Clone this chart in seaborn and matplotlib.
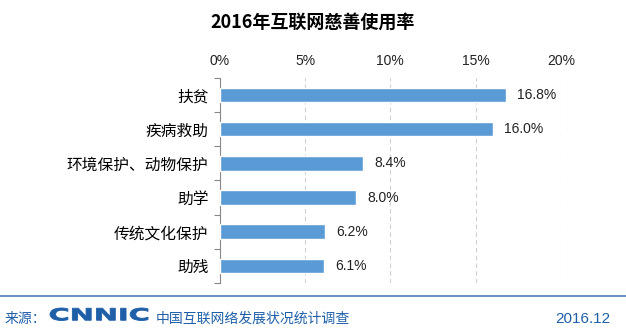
import matplotlib
matplotlib.use("Agg")
import matplotlib.pyplot as plt
import seaborn as sns
import pandas as pd
import numpy as np
from matplotlib.ticker import FixedLocator, PercentFormatter
from matplotlib.textpath import TextPath
from matplotlib.patches import PathPatch
from matplotlib.font_manager import FontProperties
from matplotlib.transforms import Affine2D

categories = ["扶贫", "疾病救助", "环境保护、动物保护", "助学", "传统文化保护", "助残"]
values = [16.8, 16.0, 8.4, 8.0, 6.2, 6.1]
xticks = [0, 5, 10, 15, 20]

sns.set_theme(style="white")
plt.rcParams['font.family'] = ['Noto Sans CJK SC', 'DejaVu Sans']

df = pd.DataFrame({"cat": categories, "val": values})

fig = plt.figure(figsize=(6.26, 3.36), dpi=100)
fig.patch.set_facecolor("white")

ax = fig.add_axes([0.351, 0.158, 0.545, 0.610])
ax.set_facecolor("none")
sns.barplot(data=df, y="cat", x="val", color="#5B9BD5", saturation=1, width=0.42, ax=ax, zorder=3)

ax.set_xlim(0, 20)
ax.set_xticks(xticks)
ax.xaxis.set_major_formatter(PercentFormatter(decimals=0))
ax.xaxis.tick_top()
ax.tick_params(axis="x", length=0, pad=7, labelsize=10, labelcolor="#222222")
for lab in ax.get_xticklabels():
    lab.set_family("Liberation Sans")
ax.grid(axis="x", linestyle=(0, (4, 3)), color="#d0d0d0", linewidth=0.8, zorder=0)
ax.set_xlabel("")
ax.set_ylabel("")

ax.tick_params(axis="y", length=0, pad=8, labelsize=11.3, labelcolor="black")
ax.yaxis.set_minor_locator(FixedLocator(np.arange(-0.5, len(categories), 1.0)))
ax.tick_params(axis="y", which="minor", length=4, color="#888888", width=0.8, left=True)
ax.set_ylim(len(categories) - 0.5, -0.5)

for s in ["top", "right", "bottom"]:
    ax.spines[s].set_visible(False)
ax.spines["left"].set_color("#888888")
ax.spines["left"].set_linewidth(0.8)

for i, v in enumerate(values):
    ax.annotate(f"{v:.1f}%", xy=(v, i), xytext=(8, 0), textcoords="offset points",
                va="center", ha="left", fontsize=10, color="#222222", family="Liberation Sans")

fig.text(0.5, 0.935, "2016年互联网慈善使用率", ha="center", va="center",
         fontsize=13, fontweight="heavy", color="black")

# footer
blue = "#1f5fa8"
fig.add_artist(plt.Line2D([0, 1], [1 - 296 / 336, 1 - 296 / 336], transform=fig.transFigure,
                          color="#4a7ebb", linewidth=1.2))
fig.text(0.008, 0.052, "来源：", ha="left", va="center", fontsize=10, color=blue)

# wide, flat CNNIC logo as a stretched text path
tp = TextPath((0, 0), "CNNIC", size=10, prop=FontProperties(family="DejaVu Sans", weight="heavy"))
ext = tp.get_extents()
target_w, target_h = 0.98, 0.125   # inches
x0, y0 = 0.50, 0.155                # inches from bottom-left
tr = (Affine2D().translate(-ext.x0, -ext.y0)
      .scale(target_w / ext.width, target_h / ext.height)
      .translate(x0, y0) + fig.dpi_scale_trans)
logo = PathPatch(tp, transform=tr, facecolor=blue, edgecolor=blue, linewidth=0.6)
fig.add_artist(logo)

fig.text(0.248, 0.052, "中国互联网络发展状况统计调查", ha="left", va="center", fontsize=10,
         color=blue)
fig.text(0.975, 0.052, "2016.12", ha="right", va="center", fontsize=11,
         color=blue, family="Liberation Sans")

fig.savefig("out.png", dpi=100, facecolor="white")
